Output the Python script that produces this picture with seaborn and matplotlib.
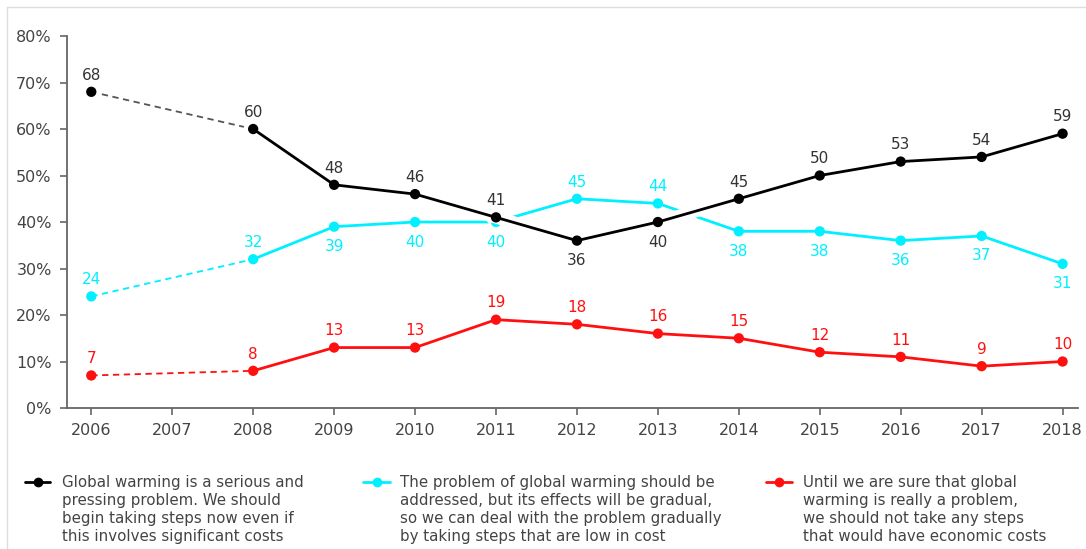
import matplotlib
matplotlib.use("Agg")
import matplotlib.pyplot as plt
import matplotlib.patheffects as pe
from matplotlib.lines import Line2D
import seaborn as sns
import pandas as pd

years = [2006, 2008, 2009, 2010, 2011, 2012, 2013, 2014, 2015, 2016, 2017, 2018]
serious = [68, 60, 48, 46, 41, 36, 40, 45, 50, 53, 54, 59]
gradual = [24, 32, 39, 40, 40, 45, 44, 38, 38, 36, 37, 31]
no_steps = [7, 8, 13, 13, 19, 18, 16, 15, 12, 11, 9, 10]

# label side per point: +1 above, -1 below
serious_side = [1, 1, 1, 1, 1, -1, -1, 1, 1, 1, 1, 1]
gradual_side = [1, 1, -1, -1, -1, 1, 1, -1, -1, -1, -1, -1]
no_steps_side = [1] * 12

legend_texts = [
    "Global warming is a serious and\npressing problem. We should\nbegin taking steps now even if\nthis involves significant costs",
    "The problem of global warming should be\naddressed, but its effects will be gradual,\nso we can deal with the problem gradually\nby taking steps that are low in cost",
    "Until we are sure that global\nwarming is really a problem,\nwe should not take any steps\nthat would have economic costs",
]

BLACK = "#000000"
CYAN = "#00f0ff"
RED = "#ff1010"
TEXT = "#444444"
colors = [BLACK, CYAN, RED]
label_colors = ["#333333", CYAN, RED]

sns.set_theme(style="white")
plt.rcParams["font.family"] = ["DejaVu Sans"]

fig = plt.figure(figsize=(10.86, 5.49), dpi=100)
ax = fig.add_axes([0.0617, 0.2568, 0.9309, 0.6776])

series = [serious, gradual, no_steps]
sides = [serious_side, gradual_side, no_steps_side]
names = ["serious", "gradual", "no_steps"]

df = pd.DataFrame({"year": years * 3,
                   "value": serious + gradual + no_steps,
                   "series": sum([[n] * len(years) for n in names], [])})

# draw red first, then cyan, black on top with a white halo
for idx in [2, 1, 0]:
    name = names[idx]
    c = colors[idx]
    sub = df[df.series == name]
    early = sub[sub.year <= 2008]
    late = sub[sub.year >= 2008]
    dash_col = "#555555" if idx == 0 else c
    sns.lineplot(data=early, x="year", y="value", ax=ax, color=dash_col,
                 linewidth=1.3, linestyle=(0, (3.5, 2.5)), zorder=2)
    effects = None
    if idx == 0:
        effects = [pe.Stroke(linewidth=9, foreground="white"), pe.Normal()]
        # white halo behind the markers
        sns.scatterplot(data=sub, x="year", y="value", ax=ax, color="white",
                        s=190, edgecolor="none", zorder=5.5)
    sns.lineplot(data=late, x="year", y="value", ax=ax, color=c,
                 linewidth=2, zorder=3 + (3 - idx), path_effects=effects)
    sns.scatterplot(data=sub, x="year", y="value", ax=ax, color=c, s=55,
                    edgecolor="none", zorder=4 + (3 - idx))
    for x, v, s in zip(years, series[idx], sides[idx]):
        dy = 3.6 if s > 0 else -4.3
        ax.text(x, v + dy, str(v), ha="center", va="center", fontsize=11,
                color=label_colors[idx], zorder=10)

ax.set_xlim(2005.70, 2018.19)
ax.set_ylim(0, 80)
ax.set_xticks(range(2006, 2019))
ax.set_xticklabels([str(y) for y in range(2006, 2019)])
ax.set_yticks(range(0, 81, 10))
ax.set_yticklabels([f"{t}%" for t in range(0, 81, 10)])
ax.set_xlabel("")
ax.set_ylabel("")
for side in ["top", "right"]:
    ax.spines[side].set_visible(False)
for side in ["left", "bottom"]:
    ax.spines[side].set_color("#666666")
    ax.spines[side].set_linewidth(1.3)
ax.tick_params(axis="both", which="both", direction="out", length=5, width=1.2,
               color="#666666", labelcolor=TEXT, labelsize=11.5, pad=6,
               left=True, bottom=True)

# legend below the plot
hx = [(25, 50), (363, 390), (766, 792)]
tx = [62, 400, 803]
W, H = 1086, 549
y_line = 1 - 482 / H
for (x0, x1), t, c, lbl in zip(hx, tx, colors, legend_texts):
    fig.add_artist(Line2D([x0 / W, x1 / W], [y_line, y_line], color=c,
                          linewidth=2, transform=fig.transFigure))
    fig.add_artist(Line2D([(x0 + x1) / 2 / W], [y_line], color=c, marker="o",
                          markersize=7, markeredgewidth=0,
                          transform=fig.transFigure))
    fig.text(t / W, 1 - 475 / H, lbl, ha="left", va="top", fontsize=10.8,
             color=TEXT, linespacing=1.25)

# thin frame along the top and left edges
fig.add_artist(Line2D([7 / W, 1], [1 - 7 / H, 1 - 7 / H], color="#dddddd",
                      linewidth=1, transform=fig.transFigure))
fig.add_artist(Line2D([7 / W, 7 / W], [0, 1 - 7 / H], color="#dddddd",
                      linewidth=1, transform=fig.transFigure))

fig.savefig("out.png", dpi=100)
